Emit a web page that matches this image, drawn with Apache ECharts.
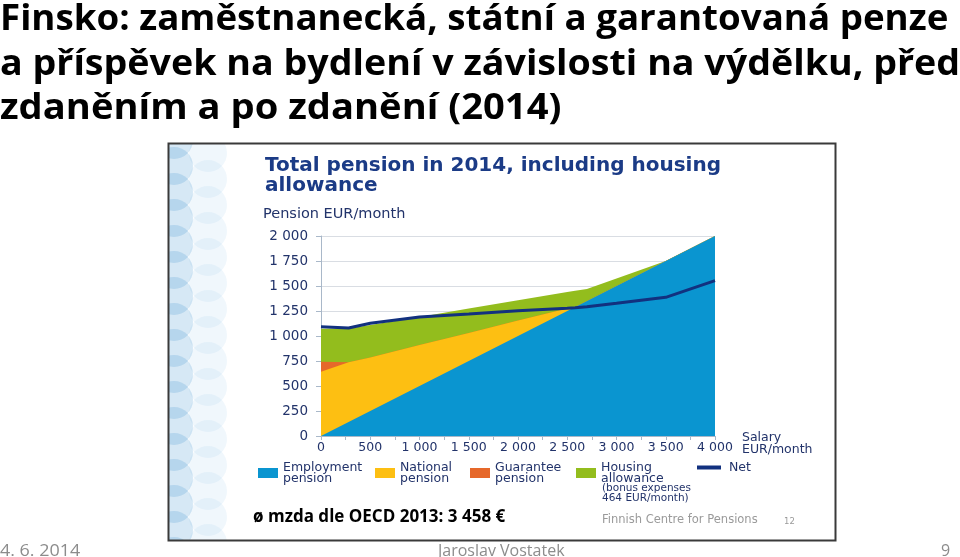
<!DOCTYPE html>
<html>
<head>
<meta charset="utf-8">
<script src="https://cdn.jsdelivr.net/npm/echarts@6/dist/echarts.min.js"></script>
<style>
html,body{margin:0;padding:0;background:#fff;}
#c{width:960px;height:557px;}
</style>
</head>
<body>
<div id="c"></div>
<script>
// ---- data ----
const salary     = [0, 280, 500, 1000, 1500, 2000, 2500, 2580, 2700, 3000, 3500, 4000];
const employment = [0, 140, 250, 500, 750, 1000, 1250, 1290, 1350, 1500, 1750, 2000];
const national   = [643, 598, 535, 410, 280, 155, 25, 0, 0, 0, 0, 0];
const guarantee  = [100, 0, 0, 0, 0, 0, 0, 0, 0, 0, 0, 0];
const housing    = [330, 337, 325, 280, 245, 202, 165, 163, 120, 75, 0, 0];
const net        = [1093, 1080, 1127, 1190, 1220, 1252, 1277, 1283, 1293, 1327, 1387, 1553];
const seriesNames = ['Employment\npension', 'National\npension', 'Guarantee\npension', 'Housing\nallowance', 'Net'];
const titleLines = ['Finsko: zaměstnanecká, státní a garantovaná penze', 'a příspěvek na bydlení v závislosti na výdělku, před', 'zdaněním a po zdanění (2014)'];

const colors = ['#0a95d0', '#fdbf12', '#e6682a', '#93bd1d', '#12317f'];
const navy = '#22336a';
const FONT = '"DejaVu Sans", Verdana, sans-serif';

function fmt(v){ return v >= 1000 ? Math.floor(v/1000) + ' ' + String(v%1000).padStart(3,'0') : String(v); }

// cumulative tops of the stacked components (employment, +national, +guarantee, +housing)
const parts = [employment, national, guarantee, housing];
const tops = [];
parts.forEach((arr, k) => {
  tops.push(arr.map((v, i) => v + (k ? tops[k-1][i] : 0)));
});

const chart = echarts.init(document.getElementById('c'), null, {renderer:'canvas'});

// decorative circles on the left strip of the embedded picture
const deco = [];
for (let y = 140; y <= 560; y += 26) {
  deco.push({type:'circle', z:1, shape:{cx:174, cy:y, r:19}, style:{fill:'rgba(70,150,210,0.22)'}});
  deco.push({type:'circle', z:1, shape:{cx:208, cy:y+13, r:19}, style:{fill:'rgba(150,195,232,0.14)'}});
}

// draw the tallest cumulative band first, each lower band over it
const areaSeries = [3, 2, 1, 0].map(k => ({
  name: seriesNames[k],
  type: 'line',
  data: salary.map((s, i) => [s, tops[k][i]]),
  symbol: 'none',
  lineStyle: {width: 0, color: colors[k]},
  itemStyle: {color: colors[k]},
  areaStyle: {color: colors[k], opacity: 1},
  emphasis: {disabled: true},
  silent: true,
  z: 2
}));

const legendPos = [258, 375, 470, 576, 697];
const legends = seriesNames.map((n, i) => ({
  data: [{name: n, icon: i === 4 ? 'path://M0,0H24V4H0Z' : 'rect'}],
  left: legendPos[i],
  top: 461,
  padding: 0,
  itemWidth: i === 4 ? 24 : 20,
  itemHeight: i === 4 ? 11 : 10,
  itemGap: 0,
  selectedMode: false,
  textStyle: {color: navy, fontFamily: FONT, fontSize: 12.5, lineHeight: 11, padding: [0,0,0,i === 4 ? 3 : 0]}
}));

const option = {
  backgroundColor: '#ffffff',
  animation: false,
  legend: legends,
  grid: {left: 321, right: 245, top: 236, bottom: 121, containLabel: false},
  xAxis: {
    type: 'value', min: 0, max: 4000, interval: 250,
    axisLine: {show: true, lineStyle: {color: '#a9b8c9', width: 1}},
    axisTick: {show: true, length: 4, lineStyle: {color: '#a9b8c9'}},
    splitLine: {show: false},
    axisLabel: {color: navy, fontFamily: FONT, fontSize: 12.5, margin: 5,
      formatter: v => (v % 500 === 0 ? fmt(v) : '')}
  },
  yAxis: {
    type: 'value', min: 0, max: 2000, interval: 250,
    axisLine: {show: true, lineStyle: {color: '#a9b8c9', width: 1}},
    axisTick: {show: true, inside: false, length: 5, lineStyle: {color: '#a9b8c9'}},
    splitLine: {show: true, lineStyle: {color: '#d9dde3', width: 1}},
    axisLabel: {color: navy, fontFamily: FONT, fontSize: 13.5, margin: 13, formatter: v => fmt(v)}
  },
  series: areaSeries.concat([{
    name: seriesNames[4],
    type: 'line',
    data: salary.map((s, i) => [s, net[i]]),
    symbol: 'none',
    lineStyle: {width: 3, color: colors[4]},
    itemStyle: {color: colors[4]},
    emphasis: {disabled: true},
    silent: true,
    z: 3
  }]),
  graphic: [
    ...deco,
    // masks to keep decoration inside the frame
    {type:'rect', z:2, shape:{x:0, y:120, width:169, height:440}, style:{fill:'#fff'}},
    {type:'rect', z:2, shape:{x:160, y:120, width:120, height:23}, style:{fill:'#fff'}},
    {type:'rect', z:2, shape:{x:160, y:541, width:700, height:16}, style:{fill:'#fff'}},
    // frame of the embedded picture
    {type:'rect', z:3, shape:{x:168.5, y:143.5, width:667, height:397}, style:{fill:'none', stroke:'#3a3a3a', lineWidth:2}},
    // slide title
    ...titleLines.map((t, i) => ({
      type:'text', z:5, x: 0, y: 2 + i*44.5, scaleX: [1.02, 1.045, 1.06][i],
      style:{text:t, font:'bold 36px "Open Sans", "Noto Sans", sans-serif', fill:'#000', verticalAlign:'top'}
    })),
    // embedded chart title
    {type:'text', z:5, left:265, top:156,
      style:{text:'Total pension in 2014, including housing\nallowance', font:'bold 20px ' + FONT, fill:'#1b3b86', lineHeight:20}},
    {type:'text', z:5, left:263, top:207,
      style:{text:'Pension EUR/month', font:'14.5px ' + FONT, fill:navy}},
    {type:'text', z:5, left:742, top:431,
      style:{text:'Salary\nEUR/month', font:'12.5px ' + FONT, fill:navy, lineHeight:12}},
    {type:'text', z:5, left:602, top:483,
      style:{text:'(bonus expenses\n464 EUR/month)', font:'10.5px ' + FONT, fill:navy, lineHeight:9.5}},
    {type:'text', z:5, left:253, top:509,
      style:{text:'ø mzda dle OECD 2013: 3 458 €', font:'bold 17px "Open Sans", "Noto Sans", sans-serif', fill:'#000'}},
    {type:'text', z:5, left:602, top:514,
      style:{text:'Finnish Centre for Pensions', font:'11.5px ' + FONT, fill:'#9a9a9a'}},
    {type:'text', z:5, left:784, top:517,
      style:{text:'12', font:'8.5px ' + FONT, fill:'#9a9a9a'}},
    // slide footer
    {type:'text', z:5, x:0, y:543, scaleX:1.12,
      style:{text:'4. 6. 2014', font:'16px "Open Sans", sans-serif', fill:'#8c8c8c', verticalAlign:'top'}},
    {type:'text', z:5, left:438, top:543,
      style:{text:'Jaroslav Vostatek', font:'16px "Open Sans", sans-serif', fill:'#8c8c8c'}},
    {type:'text', z:5, left:941, top:543,
      style:{text:'9', font:'16px "Open Sans", sans-serif', fill:'#8c8c8c'}}
  ]
};
chart.setOption(option);
</script>
</body>
</html>
